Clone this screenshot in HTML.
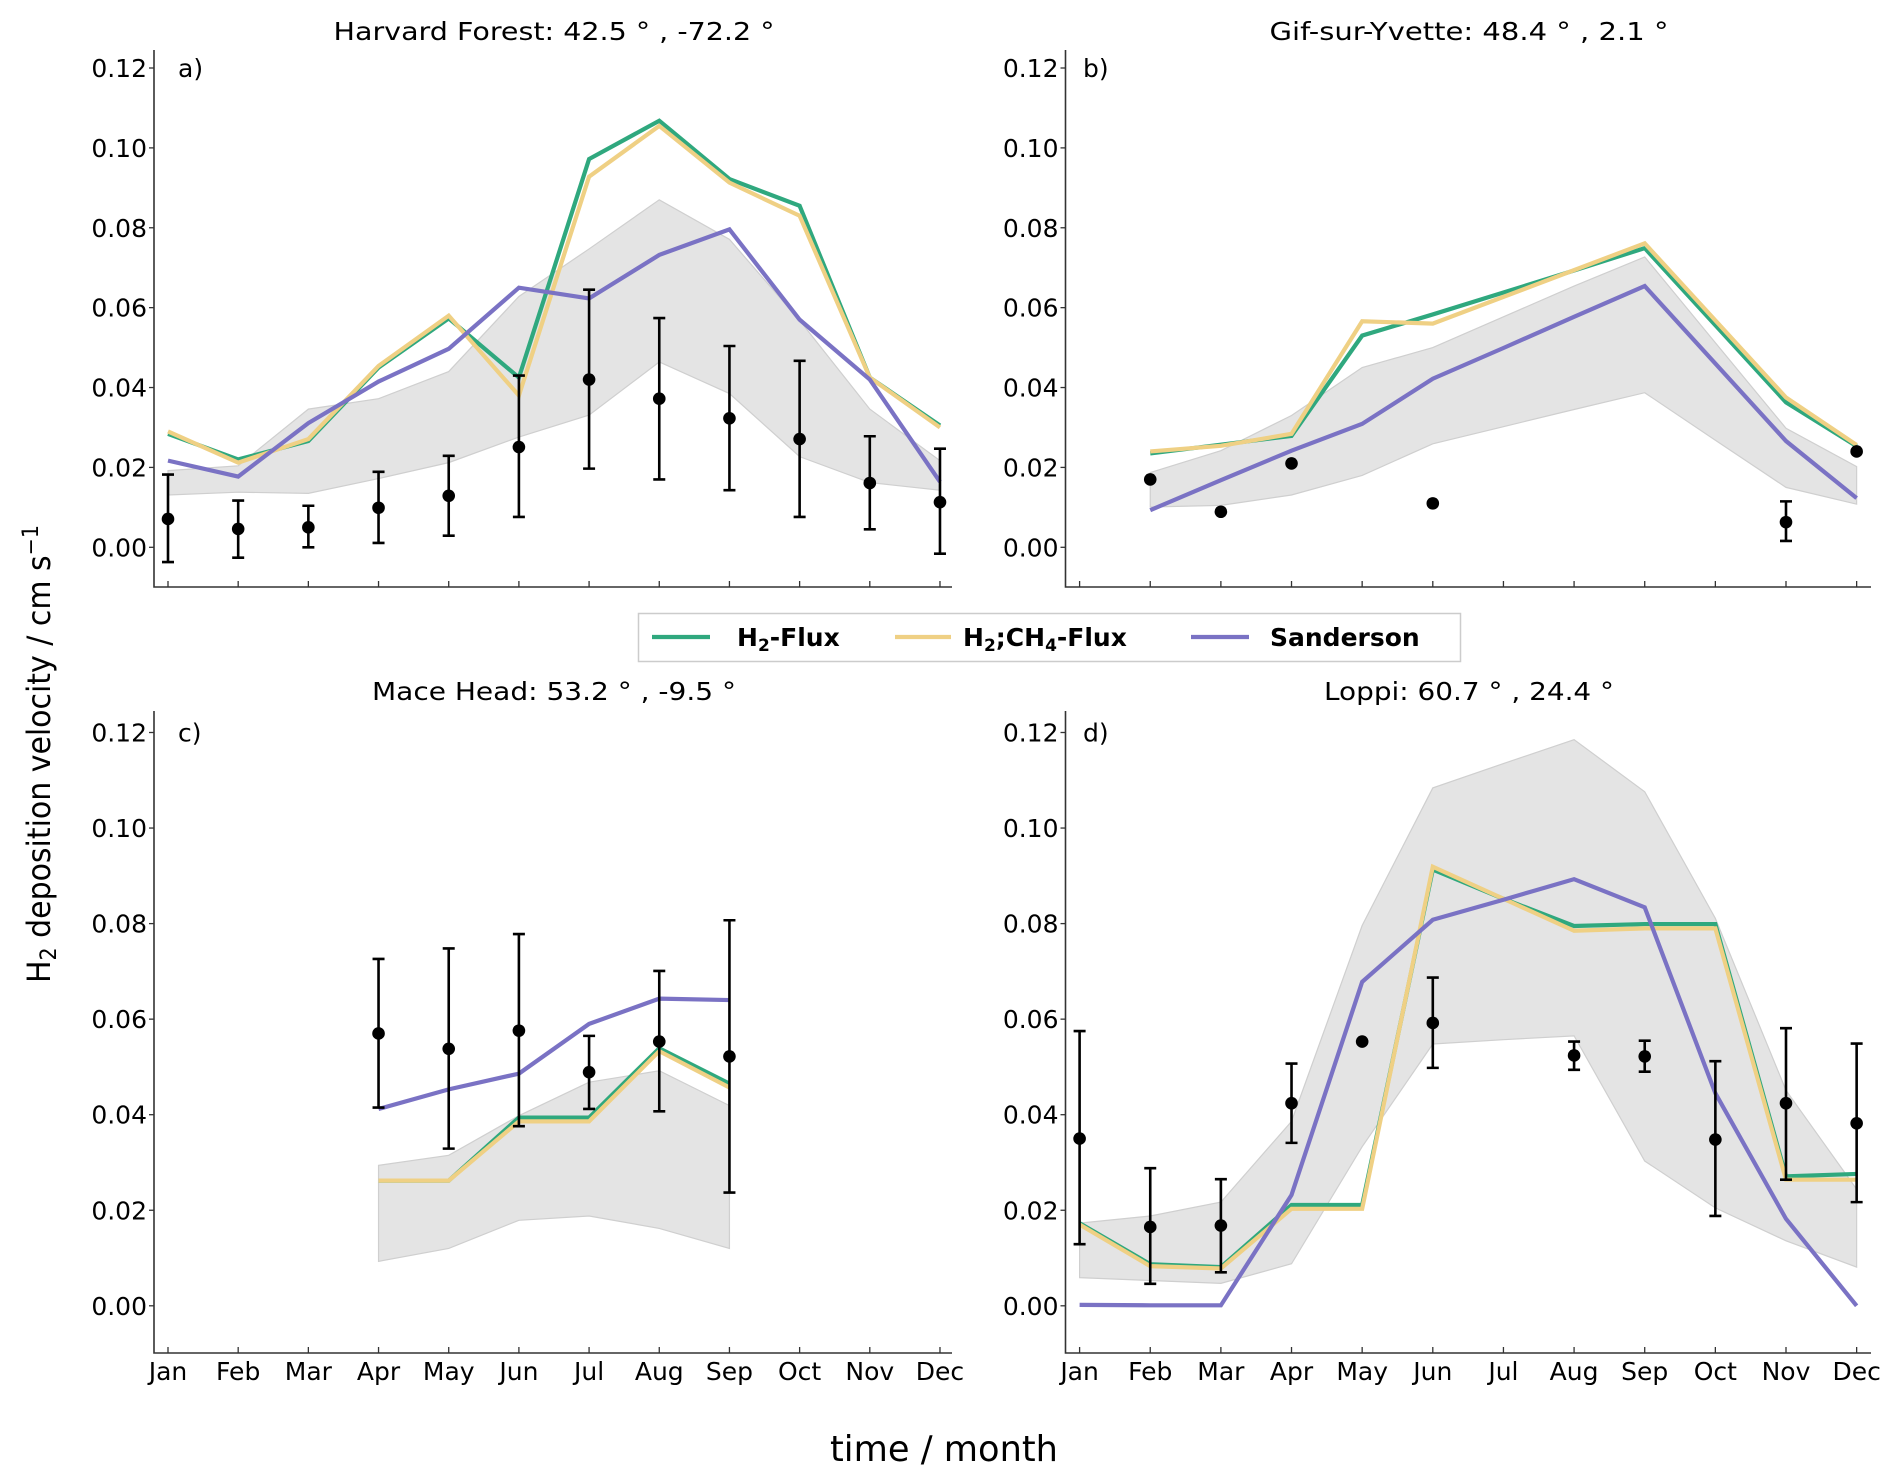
<!DOCTYPE html>
<html><head><meta charset="utf-8"><style>
html,body{margin:0;padding:0;background:#fff}
svg{display:block;font-family:"DejaVu Sans","Liberation Sans",sans-serif}
</style></head><body>
<svg id="fig" width="1892" height="1484" viewBox="0 0 1892 1484"></svg>
<script>
const months = ["Jan","Feb","Mar","Apr","May","Jun","Jul","Aug","Sep","Oct","Nov","Dec"];
const yTicks = [0.00,0.02,0.04,0.06,0.08,0.10,0.12];
const yTickLabels = ["0.00","0.02","0.04","0.06","0.08","0.10","0.12"];

// Panel a: Harvard Forest
const aH2 = [0.0284,0.022,0.0266,0.045,0.0573,0.0425,0.0972,0.1068,0.0922,0.0855,0.0425,0.0305];
const aCH4 = [0.029,0.0212,0.0271,0.0454,0.058,0.038,0.0928,0.1055,0.0913,0.083,0.0425,0.030];
const aSand = [0.0217,0.0177,0.0311,0.0415,0.0497,0.065,0.0623,0.0732,0.0796,0.057,0.042,0.0164];
const aBandHi = [0.0192,0.0204,0.0346,0.0372,0.044,0.0628,0.0747,0.087,0.0771,0.0568,0.0346,0.0217];
const aBandLo = [0.0131,0.0138,0.0135,0.0172,0.0212,0.0276,0.0331,0.0464,0.0385,0.0227,0.0162,0.0143];
const aObs = [0.0071,0.0046,0.0050,0.0099,0.0129,0.0251,0.042,0.0372,0.0323,0.0271,0.0161,0.0113];
const aErrHi = [0.0182,0.0117,0.0104,0.0189,0.0229,0.043,0.0645,0.0574,0.0504,0.0467,0.0278,0.0247];
const aErrLo = [-0.0037,-0.0026,0.0,0.0011,0.0029,0.0076,0.0197,0.017,0.0143,0.0076,0.0045,-0.0016];

// Panel b: Gif-sur-Yvette (data start at second tick)
const bH2 = [0.0235,0.0257,0.0279,0.053,0.0583,0.0638,0.0693,0.0749,0.0556,0.0363,0.0253];
const bCH4 = [0.024,0.0254,0.0284,0.0566,0.056,0.0627,0.0694,0.0761,0.0568,0.0375,0.0256];
const bSand = [0.0093,0.0168,0.0242,0.0309,0.0422,0.0499,0.0577,0.0654,0.046,0.0266,0.0123];
const bBandHi = [0.0187,0.0242,0.033,0.045,0.05,0.0577,0.0654,0.0727,0.0512,0.0298,0.0202];
const bBandLo = [0.0101,0.0105,0.0131,0.018,0.0259,0.0302,0.0345,0.0387,0.0268,0.015,0.0108];
const bObs = [0.017,0.0089,0.021,null,0.011,null,null,null,null,0.0063,0.024];
const bErrHi = [null,null,null,null,null,null,null,null,null,0.0115,null];
const bErrLo = [null,null,null,null,null,null,null,null,null,0.0016,null];

// Panel c: Mace Head
const cH2 = [null,null,null,0.0262,0.0262,0.0394,0.0394,0.0539,0.0465,null,null,null];
const cCH4 = [null,null,null,0.0262,0.0262,0.0386,0.0386,0.0533,0.0457,null,null,null];
const cSand = [null,null,null,0.0412,0.0453,0.0486,0.059,0.0643,0.064,null,null,null];
const cBandHi = [null,null,null,0.0294,0.0315,0.0398,0.0468,0.0492,0.0419,null,null,null];
const cBandLo = [null,null,null,0.0093,0.012,0.0179,0.0188,0.0162,0.012,null,null,null];
const cObs = [null,null,null,0.057,0.0538,0.0576,0.0489,0.0553,0.0522,null,null,null];
const cErrHi = [null,null,null,0.0726,0.0748,0.0778,0.0565,0.0701,0.0807,null,null,null];
const cErrLo = [null,null,null,0.0415,0.0329,0.0376,0.0412,0.0407,0.0237,null,null,null];

// Panel d: Loppi
const dH2 = [0.0173,0.0087,0.0081,0.0211,0.0211,0.0913,0.0852,0.0795,0.0799,0.0799,0.0271,0.0276];
const dCH4 = [0.017,0.0083,0.0078,0.0203,0.0203,0.0919,0.0852,0.0785,0.079,0.079,0.0264,0.0264];
const dSand = [0.0002,0.0001,0.0001,0.0232,0.0678,0.0808,0.085,0.0893,0.0834,0.0445,0.0182,0.0];
const dBandHi = [0.0173,0.0188,0.0217,0.0386,0.0796,0.1084,0.1135,0.1185,0.1076,0.0811,0.0451,0.0244];
const dBandLo = [0.0059,0.0053,0.0047,0.0088,0.0333,0.0548,0.0557,0.0565,0.0303,0.0205,0.0136,0.0081];
const dObs = [0.035,0.0165,0.0168,0.0424,0.0553,0.0592,null,0.0524,0.0522,0.0348,0.0424,0.0382];
const dErrHi = [0.0575,0.0288,0.0265,0.0507,null,0.0687,null,0.0553,0.0555,0.0512,0.0581,0.0549];
const dErrLo = [0.0129,0.0046,0.007,0.0341,null,0.0498,null,0.0494,0.049,0.0188,0.0264,0.0217];

const NS = "http://www.w3.org/2000/svg";
const svgRoot = document.getElementById("fig");
function mk(tag, attrs, parent){
  const e = document.createElementNS(NS, tag);
  for (const k in attrs) e.setAttribute(k, attrs[k]);
  (parent||svgRoot).appendChild(e);
  return e;
}
const GREEN="#2fa87e", YELLOW="#efd084", PURPLE="#7a72c4";

function panel(cfg){
  const g = mk("g", {});
  
  
  const X = i => cfg.tick0 + (i + cfg.off) * cfg.step;
  const Y = v => cfg.y0 - v / 0.12 * (cfg.y0 - cfg.y12);
  const idx = [];
  cfg.bandHi.forEach((v,i)=>{ if(v!==null) idx.push(i); });
  const pts = idx.map(i=>X(i)+","+Y(cfg.bandHi[i])).concat(idx.slice().reverse().map(i=>X(i)+","+Y(cfg.bandLo[i])));
  const band = mk("polygon", {points: pts.join(" "), fill:"#e4e4e4", stroke:"#cfcfcf", "stroke-width":1.2}, g);
  
  
  function line(arr, col, nm){
    const p = [];
    arr.forEach((v,i)=>{ if(v!==null) p.push(X(i)+","+Y(v)); });
    const l = mk("polyline", {points:p.join(" "), fill:"none", stroke:col, "stroke-width":4.2}, g);
    
    
  }
  line(cfg.h2, GREEN, "h2-flux-line");
  line(cfg.ch4, YELLOW, "h2-ch4-flux-line");
  line(cfg.sand, PURPLE, "sanderson-line");
  cfg.obs.forEach((v,i)=>{
    if (v===null) return;
    if (cfg.errHi[i]!==null){
      const x = X(i), t = Y(cfg.errHi[i]), b = Y(cfg.errLo[i]);
      const eb = mk("path", {d:`M${x},${t}V${b}M${x-6},${t}H${x+6}M${x-6},${b}H${x+6}`, stroke:"#000", "stroke-width":2.6, fill:"none"}, g);
      
      
    }
    const c = mk("circle", {cx:X(i), cy:Y(v), r:6.3, fill:"#000"}, g);
    
    
  });
  const ax = mk("path", {d:`M${cfg.axL},${cfg.axT}V${cfg.axB}H${cfg.axR}`, stroke:"#333", "stroke-width":1.6, fill:"none"}, g);
  
  
  yTicks.forEach((v,k)=>{
    mk("path", {d:`M${cfg.axL-5},${Y(v)}H${cfg.axL}`, stroke:"#333", "stroke-width":1.3}, g);
    const t = mk("text", {x:cfg.axL-7, y:Y(v)+9, "text-anchor":"end", "font-size":25, fill:"#000"}, g);
    t.textContent = yTickLabels[k];
    
    
  });
  for (let k=0;k<12;k++){
    const x = cfg.tick0 + k*cfg.step;
    mk("path", {d:`M${x},${cfg.axB}V${cfg.axB-6}`, stroke:"#333", "stroke-width":1.3}, g);
    if (cfg.labels){
      const t = mk("text", {x:x, y:cfg.axB+27, "text-anchor":"middle", "font-size":25, fill:"#000"}, g);
      t.textContent = months[k];
      
      
    }
  }
  const tt = mk("text", {x:cfg.tx, y:cfg.ty, "text-anchor":"middle", "font-size":25, fill:"#000", textLength:cfg.tw, lengthAdjust:"spacingAndGlyphs"}, g);
  tt.textContent = cfg.title;
  
  
  const pl = mk("text", {x:cfg.lx, y:cfg.y12+9, "font-size":25, fill:"#000"}, g);
  pl.textContent = cfg.letter;
  
  
}

const topCfg = {y12:68, y0:547.3, axT:50, axB:587};
const botCfg = {y12:732.5, y0:1305.8, axT:711, axB:1353};
const leftCfg = {tick0:168, step:70.18, axL:154, axR:952, lx:178, tx:554};
const rightCfg = {tick0:1079.6, step:70.64, axL:1065.5, axR:1871, lx:1083, tx:1469};

panel(Object.assign({}, topCfg, leftCfg, {name:"panel-a-harvard-forest", off:0, labels:false, title:"Harvard Forest: 42.5 \u00b0 , -72.2 \u00b0", tw:441, ty:40, letter:"a)",
  h2:aH2, ch4:aCH4, sand:aSand, bandHi:aBandHi, bandLo:aBandLo, obs:aObs, errHi:aErrHi, errLo:aErrLo}));
panel(Object.assign({}, topCfg, rightCfg, {name:"panel-b-gif-sur-yvette", off:1, labels:false, title:"Gif-sur-Yvette: 48.4 \u00b0 , 2.1 \u00b0", tw:399, ty:40, letter:"b)",
  h2:bH2, ch4:bCH4, sand:bSand, bandHi:bBandHi, bandLo:bBandLo, obs:bObs, errHi:bErrHi, errLo:bErrLo}));
panel(Object.assign({}, botCfg, leftCfg, {name:"panel-c-mace-head", off:0, labels:true, title:"Mace Head: 53.2 \u00b0 , -9.5 \u00b0", tw:364, ty:700, letter:"c)",
  h2:cH2, ch4:cCH4, sand:cSand, bandHi:cBandHi, bandLo:cBandLo, obs:cObs, errHi:cErrHi, errLo:cErrLo}));
panel(Object.assign({}, botCfg, rightCfg, {name:"panel-d-loppi", off:0, labels:true, title:"Loppi: 60.7 \u00b0 , 24.4 \u00b0", tw:290, ty:700, letter:"d)",
  h2:dH2, ch4:dCH4, sand:dSand, bandHi:dBandHi, bandLo:dBandLo, obs:dObs, errHi:dErrHi, errLo:dErrLo}));
</script>
<svg width="1892" height="1484" style="position:absolute;left:0;top:0;font-family:'DejaVu Sans','Liberation Sans',sans-serif">
  <g>
    <rect x="638.5" y="613.5" width="822" height="48" fill="#fff" stroke="#cccccc" stroke-width="1.5"/>
    <line x1="652" y1="637" x2="710" y2="637" stroke="#2fa87e" stroke-width="4.2"/>
    <text x="737" y="646" font-size="25" font-weight="bold">H<tspan font-size="17" dy="5">2</tspan><tspan dy="-5">-Flux</tspan></text>
    <line x1="895" y1="637" x2="951" y2="637" stroke="#efd084" stroke-width="4.2"/>
    <text x="963" y="646" font-size="25" font-weight="bold">H<tspan font-size="17" dy="5">2</tspan><tspan dy="-5">;CH</tspan><tspan font-size="17" dy="5">4</tspan><tspan dy="-5">-Flux</tspan></text>
    <line x1="1191" y1="637" x2="1249" y2="637" stroke="#7a72c4" stroke-width="4.2"/>
    <text x="1270" y="646" font-size="25" font-weight="bold">Sanderson</text>
  </g>
  <text x="944" y="1461" text-anchor="middle" font-size="36" textLength="228" lengthAdjust="spacingAndGlyphs">time / month</text>
  <text transform="translate(50,754) rotate(-90)" text-anchor="middle" font-size="32" textLength="458" lengthAdjust="spacingAndGlyphs">H<tspan font-size="22" dy="6">2</tspan><tspan dy="-6"> deposition velocity / cm s</tspan><tspan font-size="22" dy="-12">−1</tspan></text>
</svg>
</body></html>
